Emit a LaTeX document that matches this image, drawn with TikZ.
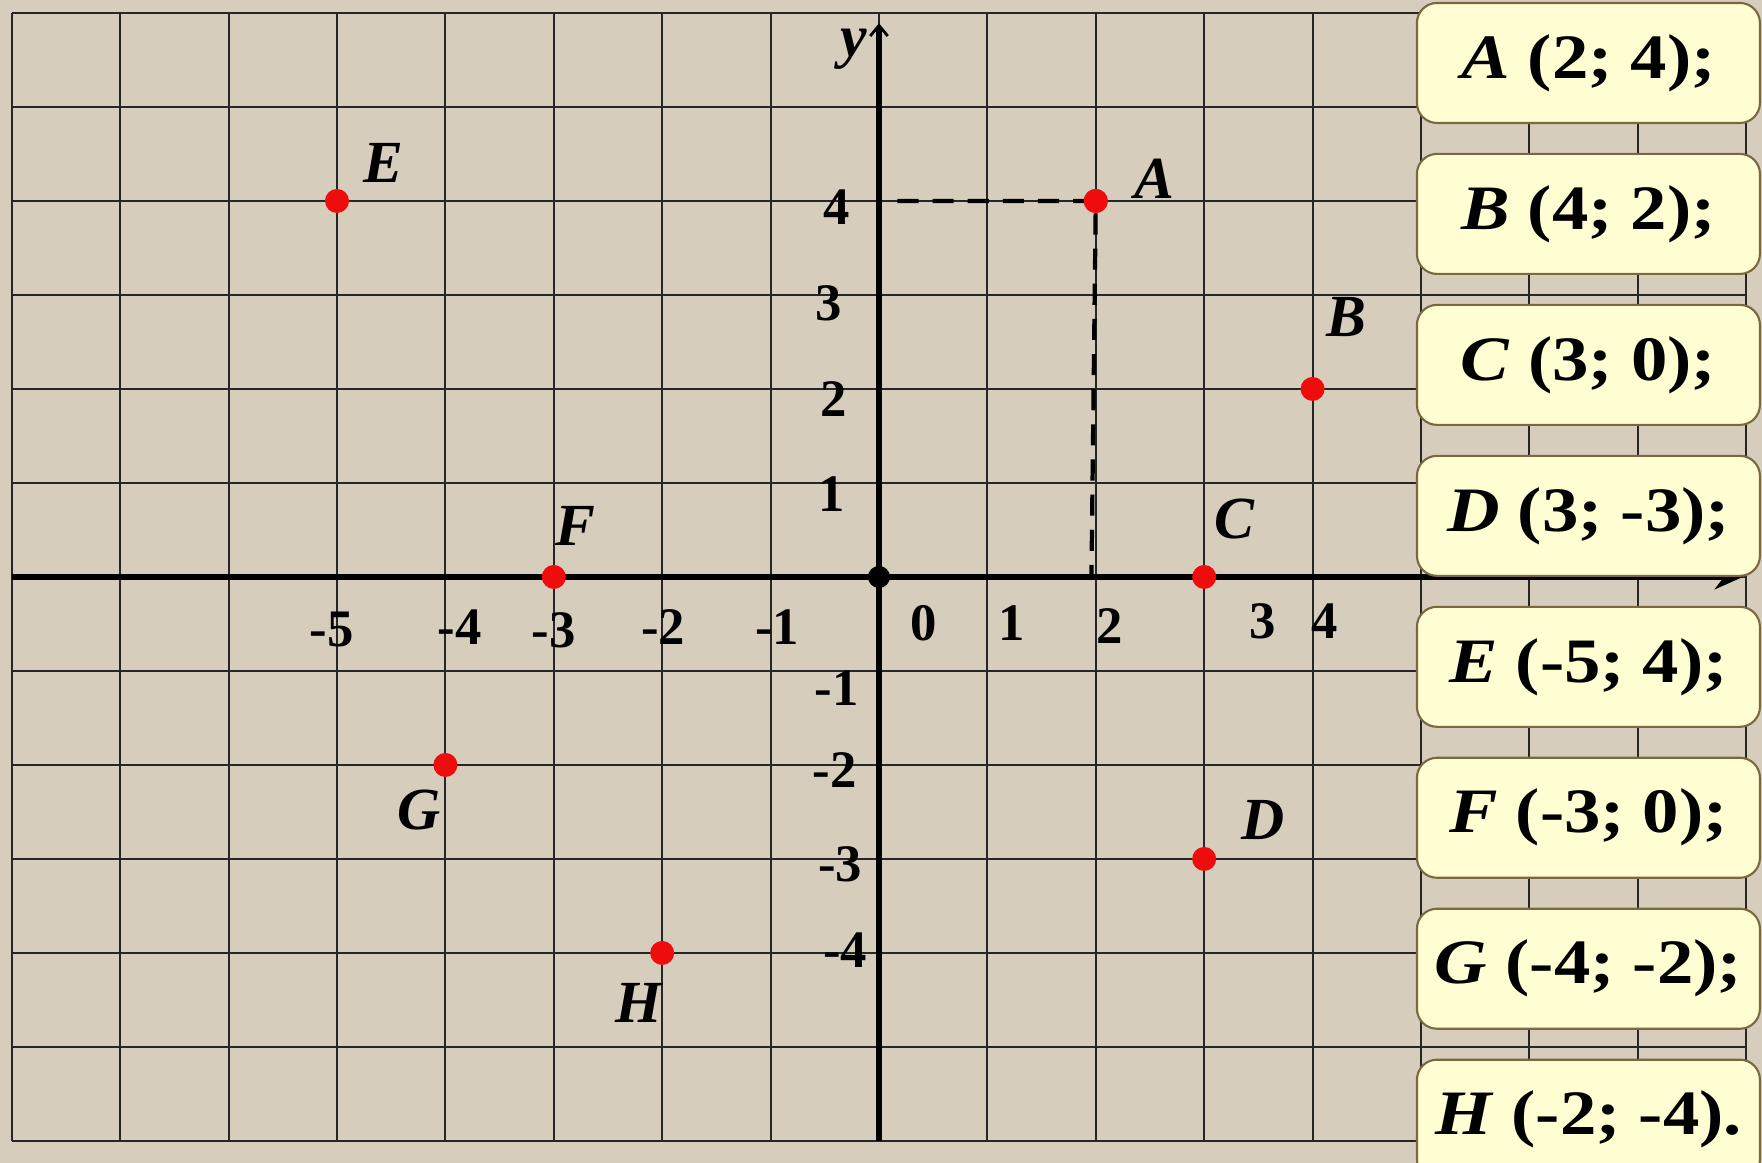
\documentclass[tikz,border=0pt]{standalone}
\usepackage{fontspec}
\setmainfont{Liberation Serif}
\usepackage{graphicx}
\usepackage{xcolor}
\usepackage{tikz}
\usetikzlibrary{arrows.meta}

\definecolor{paper}{RGB}{214,205,188}
\definecolor{cardfill}{RGB}{255,253,210}
\definecolor{cardline}{RGB}{122,104,64}
\definecolor{ptred}{RGB}{238,12,12}
\newcommand{\wide}[1]{\scalebox{1.15}[1]{#1}}

\tikzset{
  gridline/.style={black!85,line width=0.6pt},
  axisline/.style={black,line width=1.7pt},
  guide/.style={black,line width=1.2pt,dash pattern=on 6pt off 4pt},
  pt/.style={circle,fill=ptred,inner sep=0pt,minimum size=0.24cm},
  ptname/.style={font=\fontsize{17}{19}\selectfont\bfseries\itshape},
  ticklbl/.style={font=\fontsize{15}{17}\selectfont\bfseries},
  card/.style={draw=cardline,line width=0.6pt,fill=cardfill,rounded corners=0.2cm,
    minimum width=3.43cm,minimum height=1.2cm,inner sep=0pt,
    font=\fontsize{18}{20}\selectfont\bfseries}
}

\begin{document}
\begin{tikzpicture}[x=1.084cm,y=0.94cm]
                \useasboundingbox (-8.109,-6.234) rectangle (8.146,6.138);
                \clip (-8.109,-6.234) rectangle (8.146,6.138);
                \fill[paper] (-8.109,-6.234) rectangle (8.146,6.138);
                \draw[gridline] (-8,-6) grid[step=1] (8,6);
                \coordinate (xl) at (-8,0);
                \coordinate (xr) at (7.97,0);
                \coordinate (yb) at (0,-6);
                \coordinate (yt) at (0,5.89);
                \draw[axisline,-{Stealth[length=8pt,width=7pt]}] (xl) -- (xr);
                \draw[axisline,-{Straight Barb[length=3pt,width=5pt,line width=0.8pt]}] (yb) -- (yt);
                \node[ptname] (ylbl) at (-0.23,5.61) {y};
                \node[circle,fill=black,inner sep=0pt,minimum size=0.22cm] (O) at (0,0) {};
                \node[ticklbl] (xm5) at (-5.05,-0.56) {-5};
                \node[ticklbl] (xm4) at (-3.87,-0.53) {-4};
                \node[ticklbl] (xm3) at (-3.00,-0.57) {-3};
                \node[ticklbl] (xm2) at (-1.99,-0.53) {-2};
                \node[ticklbl] (xm1) at (-0.94,-0.53) {-1};
                \node[ticklbl] (x0) at (0.41,-0.49) {0};
                \node[ticklbl] (x1) at (1.22,-0.49) {1};
                \node[ticklbl] (x2) at (2.13,-0.52) {2};
                \node[ticklbl] (x3) at (3.54,-0.47) {3};
                \node[ticklbl] (x4) at (4.11,-0.47) {4};
                \node[ticklbl] (y4) at (-0.39,3.93) {4};
                \node[ticklbl] (y3) at (-0.46,2.91) {3};
                \node[ticklbl] (y2) at (-0.42,1.89) {2};
                \node[ticklbl] (y1) at (-0.44,0.88) {1};
                \node[ticklbl] (ym1) at (-0.39,-1.18) {-1};
                \node[ticklbl] (ym2) at (-0.41,-2.05) {-2};
                \node[ticklbl] (ym3) at (-0.36,-3.06) {-3};
                \node[ticklbl] (ym4) at (-0.31,-3.97) {-4};
                \coordinate (Ay) at (0.17,4);
                \coordinate (Ax) at (1.96,0);
                \node[pt] (A) at (2,4) {};
                \draw[guide] (Ay) -- (A.center) -- (Ax);
                \node[pt] (A) at (2,4) {};
                \node[pt] (B) at (4,2) {};
                \node[pt] (C) at (3,0) {};
                \node[pt] (D) at (3,-3) {};
                \node[pt] (E) at (-5,4) {};
                \node[pt] (F) at (-3,0) {};
                \node[pt] (G) at (-4,-2) {};
                \node[pt] (H) at (-2,-4) {};
                \node[ptname] (lblA) at (2.54,4.24) {A};
                \node[ptname] (lblB) at (4.31,2.76) {B};
                \node[ptname] (lblC) at (3.28,0.62) {C};
                \node[ptname] (lblD) at (3.54,-2.59) {D};
                \node[ptname] (lblE) at (-4.57,4.40) {E};
                \node[ptname] (lblF) at (-2.80,0.54) {F};
                \node[ptname] (lblG) at (-4.24,-2.48) {G};
                \node[ptname] (lblH) at (-2.22,-4.53) {H};
                \node[card] (cardA) at (6.545,5.468) {\wide{\textit{A} (2; 4);}};
                \node[card] (cardB) at (6.545,3.862) {\wide{\textit{B} (4; 2);}};
                \node[card] (cardC) at (6.545,2.256) {\wide{\textit{C} (3; 0);}};
                \node[card] (cardD) at (6.545,0.650) {\wide{\textit{D} (3; -3);}};
                \node[card] (cardE) at (6.545,-0.956) {\wide{\textit{E} (-5; 4);}};
                \node[card] (cardF) at (6.545,-2.562) {\wide{\textit{F} (-3; 0);}};
                \node[card] (cardG) at (6.545,-4.168) {\wide{\textit{G} (-4; -2);}};
                \node[card] (cardH) at (6.545,-5.774) {\wide{\textit{H} (-2; -4).}};
            \end{tikzpicture}
\end{document}
